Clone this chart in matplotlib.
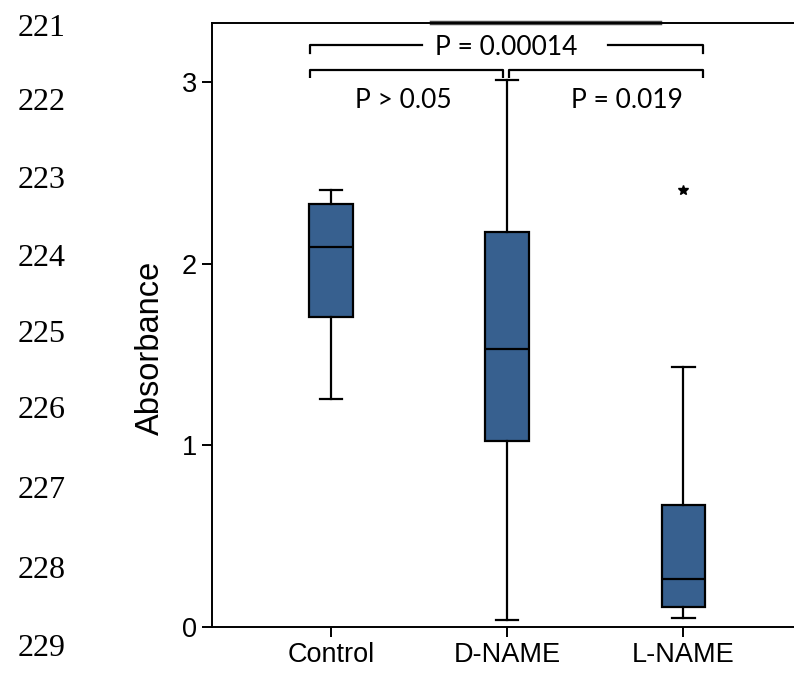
import matplotlib.pyplot as plt
from matplotlib.lines import Line2D

groups = ["Control", "D-NAME", "L-NAME"]
q1 = [1.708, 1.025, 0.110]
median = [2.093, 1.528, 0.264]
q3 = [2.326, 2.176, 0.671]
whisker_low = [1.255, 0.04, 0.05]
whisker_high = [2.405, 3.01, 1.431]
outliers = [[], [], [2.405]]

line_numbers = [221, 222, 223, 224, 225, 226, 227, 228, 229]
line_number_y = [29, 103, 181, 259, 335, 411, 491, 570, 649]  # pixel rows

box_color = "#37608f"
lw = 1.6

fig = plt.figure(figsize=(7.94, 6.75), dpi=100)
ax = fig.add_axes([212 / 794, 48 / 675, 1 - 212 / 794, (627 - 22.7) / 675])

stats = []
for i, g in enumerate(groups):
    stats.append(dict(label=g, q1=q1[i], med=median[i], q3=q3[i],
                      whislo=whisker_low[i], whishi=whisker_high[i],
                      fliers=outliers[i]))

ax.bxp(stats, positions=[1, 2, 3], widths=0.245, patch_artist=True,
       showfliers=True, capwidths=0.13,
       boxprops=dict(facecolor=box_color, edgecolor="black", linewidth=lw),
       medianprops=dict(color="black", linewidth=lw),
       whiskerprops=dict(color="black", linewidth=lw),
       capprops=dict(color="black", linewidth=lw),
       flierprops=dict(marker="*", markerfacecolor="black",
                       markeredgecolor="black", markersize=7))

ax.set_xlim(0.324, 3.63)
ax.set_ylim(0, 3.326)
ax.set_yticks([0, 1, 2, 3])
ax.spines["right"].set_visible(False)
for s in ["left", "bottom", "top"]:
    ax.spines[s].set_linewidth(1.4)
ax.tick_params(direction="out", length=7, width=1.4, labelsize=19.5, pad=4)
for lab in ax.get_xticklabels() + ax.get_yticklabels():
    lab.set_fontfamily("Liberation Sans")
ax.set_ylabel("Absorbance", fontsize=23.5, family="Liberation Sans")
ax.yaxis.set_label_coords(-0.079, 0.462)

# darker segment on the top frame
tr = ax.transAxes
x0 = (422 - 212) / (794 - 212)
x1 = (432 - 212) / (794 - 212)
x2 = (660 - 212) / (794 - 212)
ax.add_line(Line2D([x0, x1], [1, 1], transform=tr, color="white", lw=2.5, clip_on=False))
ax.add_line(Line2D([x1, x2], [1, 1], transform=tr, color="#4a4a4a", lw=3.2, clip_on=False))

# significance brackets
def bracket(xa, xb, y, drop):
    ax.plot([xa, xa, xb, xb], [y - drop, y, y, y - drop], color="black", lw=1.6,
            solid_capstyle="butt", clip_on=False)

bracket(0.881, 1.977, 3.065, 0.045)
bracket(2.011, 3.114, 3.065, 0.045)
ax.plot([0.881, 0.881, 1.517], [3.159, 3.203, 3.203], color="black", lw=1.6)
ax.plot([2.574, 3.114, 3.114], [3.203, 3.203, 3.159], color="black", lw=1.6)

pfont = dict(fontsize=19, family="Lato", ha="center", va="center")
ax.text(1.994, 3.19, "P = 0.00014", **pfont)
ax.text(1.409, 2.90, "P > 0.05", **pfont)
ax.text(2.682, 2.90, "P = 0.019", **pfont)

for n, y in zip(line_numbers, line_number_y):
    fig.text(18 / 794, 1 - y / 675, str(n), fontsize=23, family="Liberation Serif",
             ha="left", va="center")

fig.savefig("out.png", dpi=100)
